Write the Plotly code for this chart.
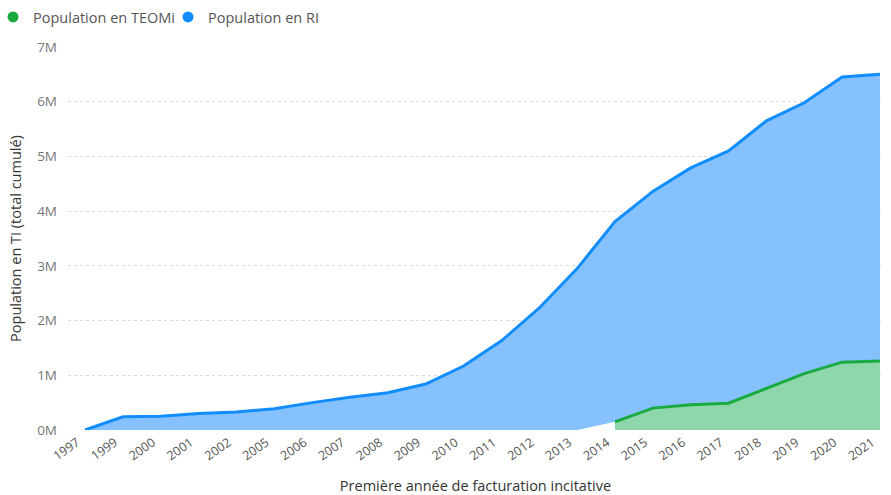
import plotly.graph_objects as go

years = ["1997", "1999", "2000", "2001", "2002", "2005", "2006", "2007", "2008", "2009",
         "2010", "2011", "2012", "2013", "2014", "2015", "2016", "2017", "2018", "2019",
         "2020", "2021"]
# cumulative population in RI (millions)
ri = [0.0, 0.24, 0.25, 0.30, 0.33, 0.39, 0.50, 0.60, 0.68, 0.84,
      1.17, 1.63, 2.23, 2.95, 3.66, 3.96, 4.33, 4.61, 4.89, 4.95,
      5.21, 5.24]
teomi_years = ["2014", "2015", "2016", "2017", "2018", "2019", "2020", "2021"]
teomi = [0.15, 0.40, 0.46, 0.49, 0.76, 1.03, 1.24, 1.26]

teo_map = dict(zip(teomi_years, teomi))
base = [teo_map.get(y, 0.0) for y in years]
total = [r + b for r, b in zip(ri, base)]

BLUE = "#118DFF"
BLUE_FILL = "#85C1FF"
GREEN = "#1AAB40"
GREEN_FILL = "#8DD7AA"

fig = go.Figure()
# invisible baseline for the blue (RI) area, stacked on TEOMi
fig.add_trace(go.Scatter(x=years, y=base, mode="lines", line=dict(width=0, color=BLUE),
                         showlegend=False, hoverinfo="skip"))
fig.add_trace(go.Scatter(x=years, y=total, mode="lines", fill="tonexty",
                         fillcolor=BLUE_FILL, line=dict(color=BLUE, width=3),
                         name="Population en RI", showlegend=False))
fig.add_trace(go.Scatter(x=teomi_years, y=teomi, mode="lines", fill="tozeroy",
                         fillcolor=GREEN_FILL, line=dict(color=GREEN, width=3),
                         name="Population en TEOMi", showlegend=False))
# legend entries (circle markers)
fig.add_trace(go.Scatter(x=[None], y=[None], mode="markers",
                         marker=dict(symbol="circle", size=11, color=GREEN),
                         name="Population en TEOMi"))
fig.add_trace(go.Scatter(x=[None], y=[None], mode="markers",
                         marker=dict(symbol="circle", size=11, color=BLUE),
                         name="Population en RI"))

fig.update_layout(
    width=891, height=495,
    margin=dict(l=68, r=8, t=47, b=65, autoexpand=False),
    paper_bgcolor="white", plot_bgcolor="white",
    font=dict(family="Open Sans, Noto Sans, sans-serif", color="#666666", size=12),
    showlegend=True,
    legend=dict(orientation="h", xref="paper", yref="container",
                x=-0.092, y=0.9657, xanchor="left", yanchor="middle",
                font=dict(size=14.5, color="#555555"), entrywidth=130,
                itemwidth=30, traceorder="normal", bgcolor="rgba(0,0,0,0)"),
    xaxis=dict(
        type="category", categoryorder="array", categoryarray=years,
        range=[-0.45, 21.08], tickangle=-35, showgrid=False, zeroline=False,
        showline=False, ticks="", tickfont=dict(size=12.5, color="#555555"),
        ticklabelshift=-8, ticklabelstandoff=2,
        automargin=True,
        title=dict(text="Première année de facturation incitative",
                   font=dict(size=14.5, color="#333333"), standoff=20),
    ),
    yaxis=dict(
        range=[0, 7], dtick=1, ticksuffix="M", showgrid=True,
        gridcolor="#D9D9D9", griddash="dot", gridwidth=1, zeroline=False,
        tickfont=dict(size=13.5, color="#777777"), ticks="", automargin=False,
        ticklabelstandoff=10,
        title=dict(text="Population en TI (total cumulé)",
                   font=dict(size=14.5, color="#333333"), standoff=12),
    ),
)

fig.write_html("out.html", config={"displayModeBar": False},
               post_script="document.body.style.margin='0';document.body.style.overflow='hidden';")
